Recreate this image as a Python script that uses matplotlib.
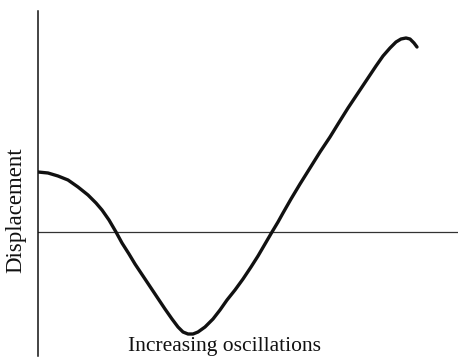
import matplotlib
matplotlib.use("Agg")
import matplotlib.pyplot as plt

# Curve (time, displacement) in arbitrary units
time = [0, 10, 20, 30, 40, 50, 58, 64, 71, 78, 84, 91, 97, 107, 117, 127, 134,
        140, 145, 150, 155, 160, 167, 175, 182, 189, 197, 205, 213, 220, 227,
        234, 240, 245, 253, 262, 272, 282, 292, 300, 310, 320, 330, 338, 345,
        352, 358, 363, 368, 372, 376, 379]
displacement = [60, 59, 56, 52, 45, 37, 29, 22, 12, 0, -11, -22, -32, -47, -62,
                -77, -87, -95, -100, -102, -102, -100, -95, -87, -78, -68, -58,
                -47, -35, -24, -12, 0, 10, 19, 33, 48, 64, 80, 95, 108, 124, 139,
                154, 166, 176, 184, 190, 193, 194, 193, 189, 185]

x_label = "Increasing oscillations"
y_label = "Displacement"

W, H = 460, 358
fig = plt.figure(figsize=(W / 100, H / 100), dpi=100)
left_px, right_px, top_px, bottom_px = 38, 458, 11, 356
ax = fig.add_axes([left_px / W, 1 - bottom_px / H,
                   (right_px - left_px) / W, (bottom_px - top_px) / H])

ax.set_xlim(0, right_px - left_px)
ax.set_ylim(-(bottom_px - 232), 232 - top_px)

ax.axhline(0, color="#333333", lw=0.9, zorder=1)
ax.plot(time, displacement, color="#111111", lw=2.4, solid_capstyle="round",
        solid_joinstyle="round", zorder=2)

for s in ["top", "right", "bottom"]:
    ax.spines[s].set_visible(False)
ax.spines["left"].set_color("#111111")
ax.spines["left"].set_linewidth(1.1)
ax.set_xticks([])
ax.set_yticks([])

serif = ["Liberation Serif", "DejaVu Serif"]
fig.text(225 / W, 1 - 346 / H, x_label, ha="center", va="center",
         fontsize=15.5, family=serif, color="#111111")
fig.text(16 / W, 1 - 210 / H, y_label, ha="center", va="center",
         rotation=90, fontsize=16.5, family=serif, color="#111111")

fig.savefig("out.png", dpi=100)
